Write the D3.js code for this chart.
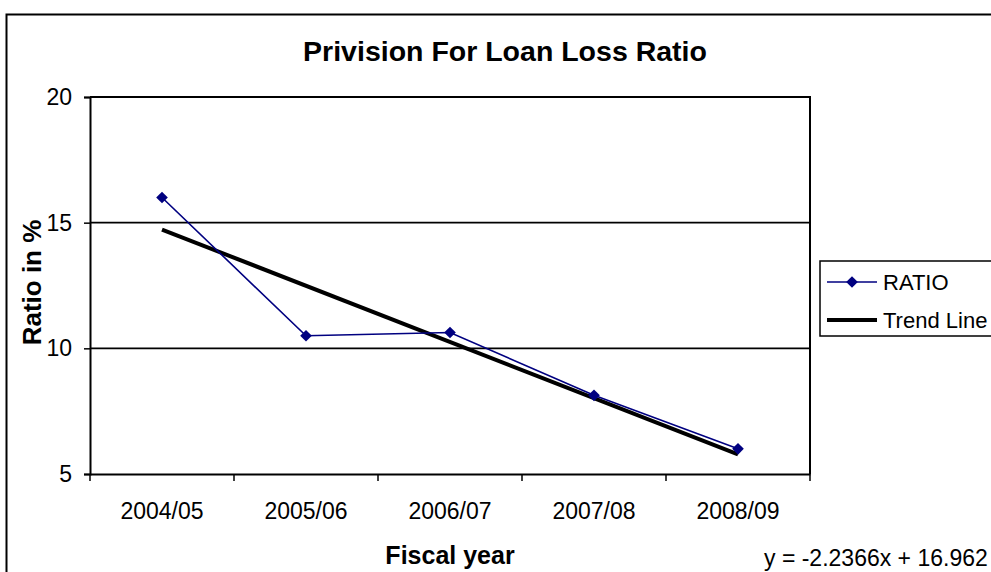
<!DOCTYPE html>
<html>
<head>
<meta charset="utf-8">
<script src="https://cdn.jsdelivr.net/npm/d3@7"></script>
<style>
  html, body { margin: 0; padding: 0; background: #fff; }
  svg { display: block; font-family: "Liberation Sans", Arial, sans-serif; }
</style>
</head>
<body>
<script>
// Provision for loan loss ratio by fiscal year, with a linear trend line
const years = ["2004/05", "2005/06", "2006/07", "2007/08", "2008/09"];
const ratio = [16.0, 10.5, 10.63, 8.13, 6.0];
const trendSlope = -2.2366;
const trendIntercept = 16.962;
const yTicks = [5, 10, 15, 20];
const gridValues = [10, 15];

const W = 991, H = 572;
const margin = { left: 90, right: 181, top: 97, bottom: 98 };

const svg = d3.select("body").append("svg")
  .attr("width", W).attr("height", H);

// chart frame
svg.append("rect")
  .attr("x", 6.5).attr("y", 14.5)
  .attr("width", W + 20).attr("height", H + 20)
  .attr("fill", "none").attr("stroke", "#000").attr("stroke-width", 2);

const x = d3.scaleBand().domain(years)
  .range([margin.left, W - margin.right]).padding(0);
const y = d3.scaleLinear().domain([5, 20])
  .range([H - margin.bottom, margin.top]);

// horizontal gridlines
svg.append("g").selectAll("line").data(gridValues).join("line")
  .attr("x1", margin.left).attr("x2", W - margin.right)
  .attr("y1", d => y(d)).attr("y2", d => y(d))
  .attr("stroke", "#000").attr("stroke-width", 1.6);

// plot area top and right edges
svg.append("path")
  .attr("d", `M${margin.left},${y(20)}H${W - margin.right}V${y(5)}`)
  .attr("fill", "none").attr("stroke", "#000").attr("stroke-width", 2);

// y axis
const yAxis = svg.append("g")
  .attr("transform", `translate(${margin.left},0)`)
  .call(d3.axisLeft(y).tickValues(yTicks).tickSize(6).tickPadding(12).tickFormat(d3.format("d")));
yAxis.select(".domain").attr("stroke-width", 2);
yAxis.selectAll(".tick line").attr("stroke-width", 1.5);
yAxis.selectAll("text").attr("font-size", 23).attr("fill", "#000");

// x axis with ticks at category boundaries
const xAxis = svg.append("g")
  .attr("transform", `translate(0,${y(5)})`)
  .call(d3.axisBottom(x).tickSize(0).tickPadding(29));
xAxis.select(".domain").attr("stroke-width", 2);
xAxis.selectAll("text").attr("font-size", 23).attr("fill", "#000");
const edges = years.map(d => x(d)).concat([x(years[years.length - 1]) + x.bandwidth()]);
xAxis.selectAll(".edge").data(edges).join("line")
  .attr("class", "edge")
  .attr("x1", d => d).attr("x2", d => d)
  .attr("y1", 0).attr("y2", 7)
  .attr("stroke", "#000").attr("stroke-width", 1.5);

const cx = d => x(d) + x.bandwidth() / 2;

// trend line across the first to last category
const trendPts = [1, years.length].map(i => [cx(years[i - 1]), y(trendSlope * i + trendIntercept)]);
svg.append("line")
  .attr("x1", trendPts[0][0]).attr("y1", trendPts[0][1])
  .attr("x2", trendPts[1][0]).attr("y2", trendPts[1][1])
  .attr("stroke", "#000").attr("stroke-width", 4);

// ratio series
const navy = "#000080";
svg.append("path")
  .datum(ratio)
  .attr("d", d3.line().x((d, i) => cx(years[i])).y(d => y(d)))
  .attr("fill", "none").attr("stroke", navy).attr("stroke-width", 1.6);

const diamond = d3.symbol().type(d3.symbolSquare).size(68);
svg.append("g").selectAll("path").data(ratio).join("path")
  .attr("d", diamond)
  .attr("transform", (d, i) => `translate(${cx(years[i])},${y(d)}) rotate(45)`)
  .attr("fill", navy);

// title and axis titles
svg.append("text")
  .attr("x", 505).attr("y", 61)
  .attr("text-anchor", "middle").attr("font-size", 28.5).attr("font-weight", "bold")
  .text("Privision For Loan Loss Ratio");

svg.append("text")
  .attr("transform", `translate(41,${(y(20) + y(5)) / 2 - 3}) rotate(-90)`)
  .attr("text-anchor", "middle").attr("font-size", 26).attr("font-weight", "bold")
  .text("Ratio in %");

svg.append("text")
  .attr("x", (margin.left + W - margin.right) / 2).attr("y", 564)
  .attr("text-anchor", "middle").attr("font-size", 25).attr("font-weight", "bold")
  .text("Fiscal year");

// regression equation
svg.append("text")
  .attr("x", 764).attr("y", 566)
  .attr("font-size", 23)
  .text(`y = ${trendSlope}x + ${trendIntercept}`);

// legend
const lg = svg.append("g");
lg.append("rect")
  .attr("x", 820).attr("y", 261).attr("width", 200).attr("height", 75)
  .attr("fill", "#fff").attr("stroke", "#000").attr("stroke-width", 1.5);
lg.append("line")
  .attr("x1", 827).attr("x2", 877).attr("y1", 282).attr("y2", 282)
  .attr("stroke", navy).attr("stroke-width", 1.6);
lg.append("path").attr("d", diamond)
  .attr("transform", "translate(852,282) rotate(45)").attr("fill", navy);
lg.append("text").attr("x", 883).attr("y", 290).attr("font-size", 22).text("RATIO");
lg.append("line")
  .attr("x1", 827).attr("x2", 877).attr("y1", 320).attr("y2", 320)
  .attr("stroke", "#000").attr("stroke-width", 4);
lg.append("text").attr("x", 883).attr("y", 328).attr("font-size", 22).text("Trend Line");
</script>
</body>
</html>
